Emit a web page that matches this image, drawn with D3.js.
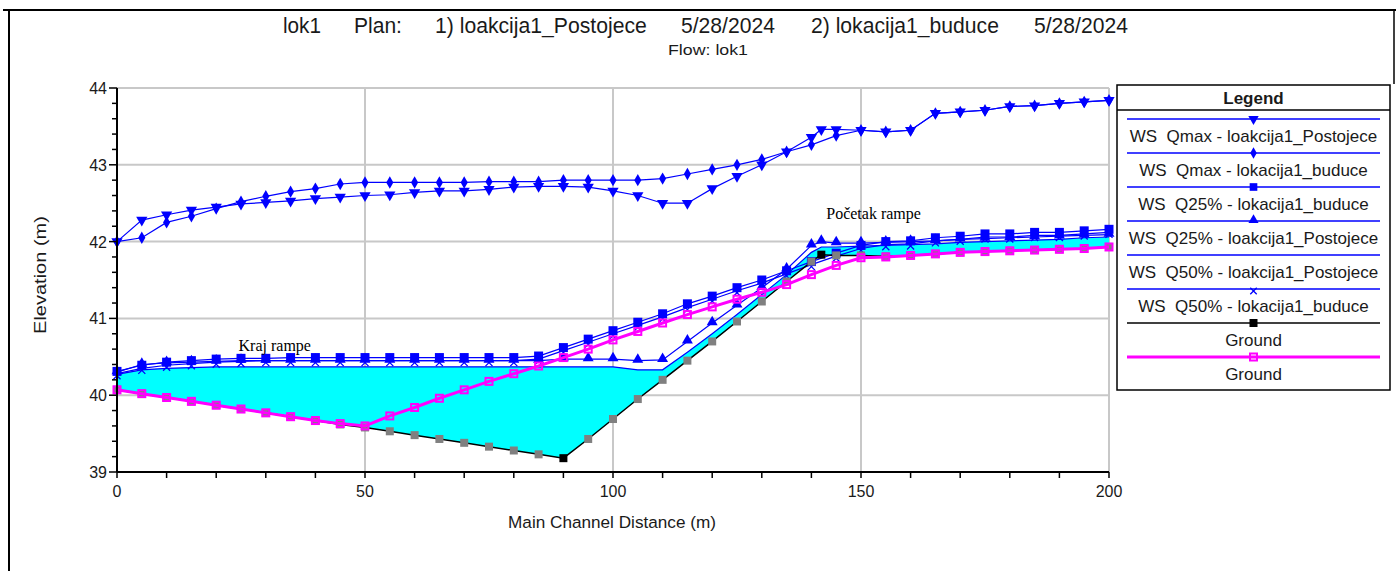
<!DOCTYPE html>
<html>
<head>
<meta charset="utf-8">
<script src="https://cdn.jsdelivr.net/npm/d3@7"></script>
<style>
  body { margin: 0; background: #fff; }
  svg { display: block; }
  text { font-family: "Liberation Sans", Arial, sans-serif; fill: #1a1a1a; }
  .serif { font-family: "Liberation Serif", "Times New Roman", serif; fill: #000; }
</style>
</head>
<body>
<svg id="chart" width="1399" height="571"></svg>
<script>
// Cross-section stations (m) for each plan
const stationsPostojece = [0,5,10,15,20,25,30,35,40,45,50,55,60,65,70,75,80,85,90,95,100,105,110,115,120,125,130,135,140,142,145,150,155,160,165,170,175,180,185,190,195,200];
const stationsBuduce = [0,5,10,15,20,25,30,35,40,45,50,55,60,65,70,75,80,85,90,95,100,105,110,115,120,125,130,135,140,145,150,155,160,165,170,175,180,185,190,195,200];

// Water surface elevations (m)
const wsQmaxPostojece = [42.00,42.28,42.35,42.41,42.45,42.49,42.51,42.53,42.56,42.58,42.60,42.61,42.64,42.66,42.66,42.68,42.71,42.72,42.72,42.71,42.66,42.60,42.50,42.50,42.69,42.85,43.00,43.17,43.36,43.46,43.46,43.45,43.43,43.45,43.67,43.69,43.71,43.76,43.77,43.80,43.82,43.84];
const wsQmaxBuduce = [42.00,42.05,42.25,42.33,42.43,42.52,42.59,42.65,42.69,42.75,42.77,42.77,42.77,42.77,42.77,42.78,42.78,42.78,42.80,42.80,42.80,42.80,42.82,42.88,42.94,43.00,43.07,43.17,43.26,43.38,43.45,43.43,43.45,43.67,43.69,43.71,43.76,43.77,43.80,43.82,43.84];
const wsQ25Buduce = [40.31,40.39,40.43,40.45,40.47,40.48,40.48,40.49,40.49,40.49,40.49,40.49,40.49,40.49,40.49,40.49,40.49,40.51,40.62,40.73,40.84,40.95,41.06,41.19,41.29,41.40,41.50,41.62,41.74,41.85,41.95,42.00,42.01,42.05,42.07,42.10,42.10,42.12,42.12,42.14,42.16];
const wsQ25Postojece = [40.30,40.40,40.42,40.43,40.44,40.45,40.45,40.45,40.45,40.45,40.45,40.45,40.45,40.45,40.45,40.45,40.45,40.45,40.47,40.47,40.47,40.45,40.46,40.70,40.94,41.17,41.40,41.64,41.95,42.00,41.98,41.98,41.99,42.00,42.01,42.03,42.04,42.05,42.06,42.07,42.08,42.09];
const wsQ50Postojece = [40.27,40.33,40.35,40.36,40.37,40.37,40.37,40.37,40.37,40.37,40.37,40.37,40.37,40.37,40.37,40.37,40.37,40.37,40.37,40.37,40.37,40.33,40.33,40.56,40.80,41.05,41.31,41.57,41.86,41.93,41.93,41.94,41.95,41.96,41.97,41.99,42.00,42.01,42.02,42.03,42.05,42.06];
const wsQ50Buduce = [40.28,40.35,40.39,40.41,40.43,40.44,40.45,40.45,40.45,40.45,40.45,40.45,40.45,40.45,40.45,40.45,40.45,40.47,40.58,40.69,40.80,40.91,41.02,41.14,41.25,41.36,41.46,41.58,41.70,41.81,41.91,41.96,41.97,42.01,42.03,42.06,42.06,42.08,42.08,42.10,42.12];

// Channel bed elevations (m)
const groundPostojece = [40.07,40.02,39.97,39.92,39.87,39.82,39.77,39.72,39.67,39.62,39.58,39.53,39.48,39.43,39.38,39.33,39.28,39.23,39.18,39.43,39.69,39.95,40.20,40.45,40.70,40.96,41.22,41.48,41.74,41.83,41.82,41.82,41.81,41.82,41.84,41.86,41.87,41.88,41.89,41.90,41.91,41.93];
const groundBuduce = [40.07,40.02,39.97,39.92,39.87,39.82,39.77,39.72,39.67,39.63,39.60,39.73,39.84,39.96,40.07,40.18,40.28,40.38,40.49,40.60,40.72,40.83,40.94,41.05,41.15,41.25,41.34,41.44,41.57,41.69,41.79,41.80,41.82,41.84,41.86,41.87,41.88,41.89,41.90,41.91,41.93];
const groundBreakStations = [90, 142];

// Axis ticks
const xTicks = [0, 50, 100, 150, 200];
const xMinorTicks = [0,10,20,30,40,50,60,70,80,90,100,110,120,130,140,150,160,170,180,190,200];
const yTicks = [39, 40, 41, 42, 43, 44];
const yMinorTicks = [39,39.2,39.4,39.6,39.8,40,40.2,40.4,40.6,40.8,41,41.2,41.4,41.6,41.8,42,42.2,42.4,42.6,42.8,43,43.2,43.4,43.6,43.8,44];

// Titles and notes
const titleParts = [
  { text: "lok1", x: 283, w: 38 },
  { text: "Plan:", x: 354, w: 48 },
  { text: "1) loakcija1_Postojece", x: 435, w: 212 },
  { text: "5/28/2024", x: 681, w: 94 },
  { text: "2) lokacija1_buduce", x: 811, w: 188 },
  { text: "5/28/2024", x: 1034, w: 94 }
];
const subtitle = "Flow: lok1";
const notes = [
  { text: "Kraj rampe", station: 24.5, elev: 40.58 },
  { text: "Početak rampe", station: 143, elev: 42.29 }
];

const toPoints = (xs, ys) => xs.map((s, i) => ({ s, v: ys[i] }));

const series = [
  { name: "WS  Qmax - loakcija1_Postojece", pts: toPoints(stationsPostojece, wsQmaxPostojece), color: "#0000ff", width: 1.2, marker: "tridown" },
  { name: "WS  Qmax - lokacija1_buduce", pts: toPoints(stationsBuduce, wsQmaxBuduce), color: "#0000ff", width: 1.2, marker: "diamond" },
  { name: "WS  Q25% - lokacija1_buduce", pts: toPoints(stationsBuduce, wsQ25Buduce), color: "#0000ff", width: 1.2, marker: "square" },
  { name: "WS  Q25% - loakcija1_Postojece", pts: toPoints(stationsPostojece, wsQ25Postojece), color: "#0000ff", width: 1.2, marker: "triup" },
  { name: "WS  Q50% - loakcija1_Postojece", pts: toPoints(stationsPostojece, wsQ50Postojece), color: "#0000ff", width: 1.2, marker: "none" },
  { name: "WS  Q50% - lokacija1_buduce", pts: toPoints(stationsBuduce, wsQ50Buduce), color: "#0000ff", width: 1.2, marker: "x" },
  { name: "Ground", pts: toPoints(stationsPostojece, groundPostojece), color: "#000000", width: 1.5, marker: "groundsq" },
  { name: "Ground", pts: toPoints(stationsBuduce, groundBuduce), color: "#ff00ff", width: 3, marker: "hollowsq" }
];

const svg = d3.select("#chart");
const x = d3.scaleLinear().domain([0, 200]).range([117, 1109]);
const y = d3.scaleLinear().domain([39, 44]).range([472, 88]);

// Condensed text: draw at origin, then squeeze horizontally to the wanted width
function condensed(parent, str, px, py, size, width, anchor = "start", rotate = 0) {
  const g = parent.append("g").attr("transform", `translate(${px},${py}) rotate(${rotate})`);
  const t = g.append("text").attr("font-size", size).attr("text-anchor", anchor).text(str);
  const natural = t.node().getComputedTextLength();
  t.attr("transform", `scale(${width / natural},1)`);
  return t;
}

svg.append("rect").attr("width", 1399).attr("height", 571).attr("fill", "#fff");

// Outer frame
svg.append("line").attr("x1", 3).attr("x2", 1396).attr("y1", 10).attr("y2", 10).attr("stroke", "#000").attr("stroke-width", 2);
svg.append("line").attr("x1", 9).attr("x2", 9).attr("y1", 10).attr("y2", 571).attr("stroke", "#000").attr("stroke-width", 2);
svg.append("line").attr("x1", 1394).attr("x2", 1394).attr("y1", 10).attr("y2", 84).attr("stroke", "#000").attr("stroke-width", 1.5);

// Title
const titleG = svg.append("g");
titleParts.forEach(p => condensed(titleG, p.text, p.x, 33, 22, p.w));
condensed(svg, subtitle, 708, 55, 15, 80, "middle");

// Grid
const grid = svg.append("g").attr("stroke", "#c8c8c8").attr("stroke-width", 2);
grid.selectAll(".gx").data(xTicks.filter(t => t > 0)).join("line")
  .attr("x1", d => x(d)).attr("x2", d => x(d)).attr("y1", y(44)).attr("y2", y(39));
grid.selectAll(".gy").data(yTicks.filter(t => t > 39)).join("line")
  .attr("x1", x(0)).attr("x2", x(200)).attr("y1", d => y(d)).attr("y2", d => y(d));

// Water fill between existing bed and the Q50% existing surface
const fillPts = stationsPostojece.map((s, i) => ({ s, lo: groundPostojece[i], hi: wsQ50Postojece[i] }));
svg.append("path")
  .attr("d", d3.area().x(d => x(d.s)).y0(d => y(d.lo)).y1(d => y(d.hi))(fillPts))
  .attr("fill", "#00ffff");

// Markers
function drawMarker(g, type, color, cx, cy, scale = 1) {
  if (type === "none") return;
  if (type === "tridown") {
    g.append("path").attr("d", d3.symbol(d3.symbolTriangle, 55 * scale)()).attr("transform", `translate(${cx},${cy}) rotate(180)`).attr("fill", color);
  } else if (type === "triup") {
    g.append("path").attr("d", d3.symbol(d3.symbolTriangle, 52 * scale)()).attr("transform", `translate(${cx},${cy - 1})`).attr("fill", color);
  } else if (type === "diamond") {
    g.append("path").attr("d", d3.symbol(d3.symbolDiamond, 44 * scale)()).attr("transform", `translate(${cx},${cy})`).attr("fill", color);
  } else if (type === "square") {
    g.append("rect").attr("x", cx - 4.5 * scale).attr("y", cy - 4.5 * scale).attr("width", 9 * scale).attr("height", 9 * scale).attr("fill", color);
  } else if (type === "x") {
    g.append("path").attr("d", d3.symbol(d3.symbolX, 34 * scale)()).attr("transform", `translate(${cx},${cy + 2})`).attr("fill", "none").attr("stroke", color).attr("stroke-width", 1.3);
  } else if (type === "groundsq") {
    g.append("rect").attr("x", cx - 4).attr("y", cy - 4).attr("width", 8).attr("height", 8).attr("fill", color);
  } else if (type === "hollowsq") {
    g.append("rect").attr("x", cx - 3.5).attr("y", cy - 3.5).attr("width", 7).attr("height", 7).attr("fill", "none").attr("stroke", color).attr("stroke-width", 2);
  }
}

const line = d3.line().x(d => x(d.s)).y(d => y(d.v));
const plot = svg.append("g");
series.forEach(sr => {
  const g = plot.append("g");
  g.append("path").attr("d", line(sr.pts)).attr("fill", "none").attr("stroke", sr.color).attr("stroke-width", sr.width);
  sr.pts.forEach(p => {
    let c = sr.color;
    if (sr.marker === "groundsq") c = groundBreakStations.includes(p.s) ? "#000" : "#808080";
    drawMarker(g, sr.marker, c, x(p.s), y(p.v));
  });
});

// Axes
const axes = svg.append("g").attr("stroke", "#000");
axes.append("line").attr("x1", x(0)).attr("x2", x(0)).attr("y1", y(44)).attr("y2", y(39)).attr("stroke-width", 2);
axes.append("line").attr("x1", x(0)).attr("x2", x(200)).attr("y1", y(39)).attr("y2", y(39)).attr("stroke-width", 2);
axes.selectAll(".ty").data(yMinorTicks).join("line")
  .attr("x1", d => x(0) - (yTicks.includes(Math.round(d * 10) / 10) ? 8 : 5)).attr("x2", x(0))
  .attr("y1", d => y(d)).attr("y2", d => y(d)).attr("stroke-width", 1.5);
axes.selectAll(".tx").data(xMinorTicks).join("line")
  .attr("x1", d => x(d)).attr("x2", d => x(d))
  .attr("y1", y(39)).attr("y2", y(39) + 6).attr("stroke-width", 1.5);

svg.append("g").selectAll("text").data(yTicks).join("text")
  .attr("x", x(0) - 10).attr("y", d => y(d) + 6).attr("text-anchor", "end")
  .attr("font-size", 16).text(d => d);
svg.append("g").selectAll("text").data(xTicks).join("text")
  .attr("x", d => x(d)).attr("y", 497).attr("text-anchor", "middle")
  .attr("font-size", 16).text(d => d);

condensed(svg, "Main Channel Distance (m)", 612, 528, 17, 208, "middle");
condensed(svg, "Elevation (m)", 46, 275, 17, 118, "middle", -90);

// Annotations
svg.append("g").selectAll("text").data(notes).join("text")
  .attr("class", "serif").attr("x", d => x(d.station)).attr("y", d => y(d.elev))
  .attr("font-size", 16).text(d => d.text);

// Legend
const lg = svg.append("g");
const L = { x0: 1117, x1: 1390, y0: 85, y1: 390 };
lg.append("rect").attr("x", L.x0).attr("y", L.y0).attr("width", L.x1 - L.x0).attr("height", L.y1 - L.y0)
  .attr("fill", "#fff").attr("stroke", "#000").attr("stroke-width", 1.5);
lg.append("line").attr("x1", L.x0).attr("x2", L.x1).attr("y1", 110).attr("y2", 110).attr("stroke", "#000").attr("stroke-width", 1.5);
lg.append("text").attr("x", (L.x0 + L.x1) / 2).attr("y", 104).attr("text-anchor", "middle")
  .attr("font-size", 17).attr("font-weight", "bold").text("Legend");
series.forEach((sr, i) => {
  const ly = 119 + i * 34;
  const cx = (L.x0 + L.x1) / 2;
  lg.append("line").attr("x1", 1127).attr("x2", 1380).attr("y1", ly).attr("y2", ly)
    .attr("stroke", sr.color).attr("stroke-width", sr.width === 3 ? 3 : 1.5);
  drawMarker(lg, sr.marker, sr.color, cx, ly, 0.85);
  lg.append("text").attr("x", cx).attr("y", ly + 23).attr("text-anchor", "middle")
    .attr("font-size", 17).attr("xml:space", "preserve").style("white-space", "pre").text(sr.name);
});
</script>
</body>
</html>
